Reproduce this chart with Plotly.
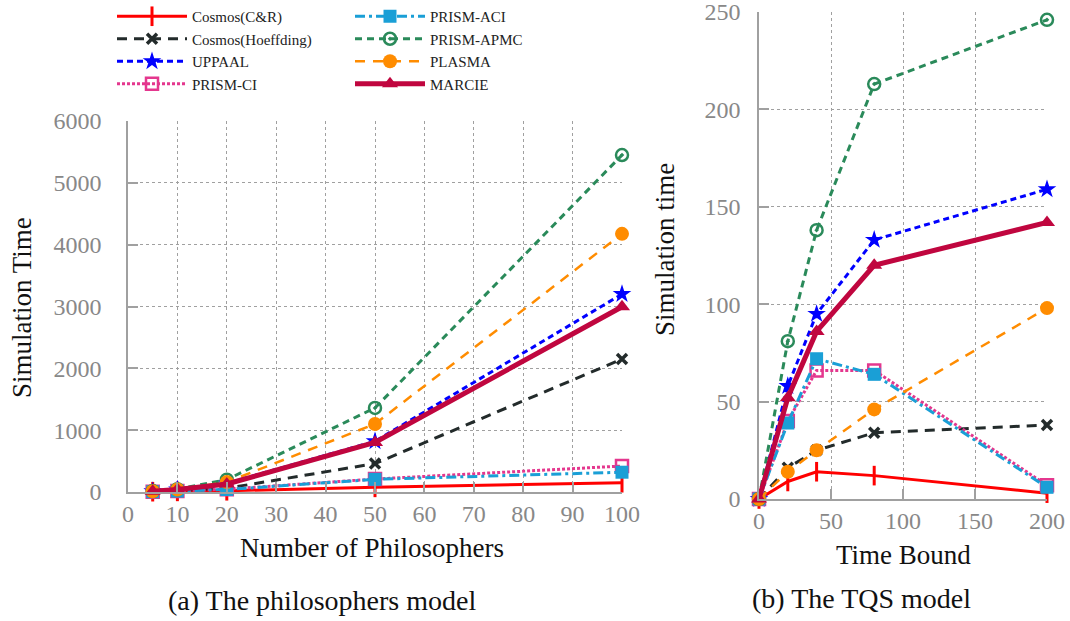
import plotly.graph_objects as go

# ---------------- data ----------------
series_names = ["Cosmos(C&R)", "Cosmos(Hoeffding)", "UPPAAL", "PRISM-CI",
                "PRISM-ACI", "PRISM-APMC", "PLASMA", "MARCIE"]

phil_x = [5, 10, 20, 50, 100]
phil_cosmos_cr = [5, 10, 20, 75, 150]
phil_cosmos_hoeff = [8, 25, 60, 460, 2150]
phil_uppaal = [12, 40, 140, 820, 3200]
phil_prism_ci = [6, 18, 45, 210, 420]
phil_prism_aci = [5, 15, 40, 205, 320]
phil_prism_apmc = [15, 45, 200, 1360, 5450]
phil_plasma = [12, 40, 160, 1100, 4175]
phil_marcie = [12, 40, 130, 800, 2995]

tqs_x = [0, 20, 40, 80, 200]
tqs_cosmos_cr = [0, 9, 14, 12, 3]
tqs_cosmos_hoeff = [0, 16, 25, 34, 38]
tqs_uppaal = [0, 58, 95, 133, 159]
tqs_prism_ci = [0, 40, 66, 66, 7]
tqs_prism_aci = [0, 39, 72, 64, 6]
tqs_prism_apmc = [0, 81, 138, 213, 246]
tqs_plasma = [0, 14, 25, 46, 98]
tqs_marcie = [0, 52, 86, 120, 142]

phil_x_ticks = list(range(0, 101, 10))
phil_y_ticks = list(range(0, 6001, 1000))
tqs_x_ticks = [0, 50, 100, 150, 200]
tqs_y_ticks = [0, 50, 100, 150, 200, 250]

phil_data = [phil_cosmos_cr, phil_cosmos_hoeff, phil_uppaal, phil_prism_ci,
             phil_prism_aci, phil_prism_apmc, phil_plasma, phil_marcie]
tqs_data = [tqs_cosmos_cr, tqs_cosmos_hoeff, tqs_uppaal, tqs_prism_ci,
            tqs_prism_aci, tqs_prism_apmc, tqs_plasma, tqs_marcie]

# ---------------- styles ----------------
styles = {
    "Cosmos(C&R)": dict(color="#ff0000", width=3, dash="solid", symbol="line-ns", msize=14, mline=3, legend="legend"),
    "Cosmos(Hoeffding)": dict(color="#232b2b", width=3, dash="10px,7px", symbol="x-thin", msize=10, mline=3.5, legend="legend"),
    "UPPAAL": dict(color="#0000ff", width=3, dash="6px,4px", symbol="star", msize=14, mline=0, legend="legend"),
    "PRISM-CI": dict(color="#e4378e", width=3, dash="3px,2px", symbol="square-open", msize=12, mline=2.5, legend="legend"),
    "PRISM-ACI": dict(color="#1a9fd6", width=3, dash="10px,4px,3px,4px", symbol="square", msize=13, mline=0, legend="legend2"),
    "PRISM-APMC": dict(color="#2a8a5a", width=3, dash="7px,5px", symbol="circle-open-dot", msize=12, mline=2.5, legend="legend2"),
    "PLASMA": dict(color="#ff8c00", width=2.5, dash="10px,8px", symbol="circle", msize=14, mline=0, legend="legend2"),
    "MARCIE": dict(color="#c0063f", width=5, dash="solid", symbol="triangle-up", msize=14, mline=0, legend="legend2"),
}

SERIF = "Liberation Serif"
fig = go.Figure()

for name, ys in zip(series_names, phil_data):
    s = styles[name]
    fig.add_trace(go.Scatter(
        x=phil_x, y=ys, name=name, mode="lines+markers", legend=s["legend"],
        line=dict(color=s["color"], width=s["width"], dash=s["dash"]),
        marker=dict(symbol=s["symbol"], size=s["msize"], color=s["color"],
                    line=dict(color=s["color"], width=s["mline"])),
        cliponaxis=False, xaxis="x", yaxis="y"))

for name, ys in zip(series_names, tqs_data):
    s = styles[name]
    fig.add_trace(go.Scatter(
        x=tqs_x, y=ys, name=name, mode="lines+markers", showlegend=False,
        line=dict(color=s["color"], width=s["width"], dash=s["dash"]),
        marker=dict(symbol=s["symbol"], size=s["msize"], color=s["color"],
                    line=dict(color=s["color"], width=s["mline"])),
        cliponaxis=False, xaxis="x2", yaxis="y2"))

W, H = 1070, 621
def px(v):
    return v / W
def py(v):
    return 1 - v / H

axis_common = dict(
    showgrid=True, gridcolor="#a0a0a0", griddash="dot", gridwidth=1,
    showline=True, linecolor="#a0a0a0", linewidth=1.5,
    ticks="inside", ticklen=10, tickcolor="#a0a0a0", tickwidth=1.5,
    tickfont=dict(family=SERIF, size=24, color="#888888"),
    zeroline=False, mirror=False, automargin=False, ticklabeloverflow="allow",
)

legend_common = dict(
    orientation="v", yanchor="top", xanchor="left",
    font=dict(family=SERIF, size=15, color="#222222"),
    itemwidth=70, bgcolor="rgba(0,0,0,0)", tracegroupgap=0,
)

fig.update_layout(
    width=W, height=H, margin=dict(l=0, r=0, t=0, b=0),
    paper_bgcolor="white", plot_bgcolor="white",
    showlegend=True,
    legend=dict(x=px(112), y=1.0, **legend_common),
    legend2=dict(x=px(350), y=1.0, **legend_common),
    xaxis=dict(domain=[px(128), px(622)], range=[0, 100], tickvals=phil_x_ticks,
               ticklabelstandoff=-1, anchor="y", **axis_common),
    yaxis=dict(domain=[py(492), py(121)], range=[0, 6000], tickvals=phil_y_ticks,
               ticklabelstandoff=20, anchor="x", **axis_common),
    xaxis2=dict(domain=[px(759), px(1047)], range=[0, 200], tickvals=tqs_x_ticks,
                ticklabelstandoff=-1, anchor="y2", **axis_common),
    yaxis2=dict(domain=[py(499), py(12)], range=[0, 250], tickvals=tqs_y_ticks,
                ticklabelstandoff=12, anchor="x2", **axis_common),
)

ann_font = dict(family=SERIF, size=27, color="#111111")
cap_font = dict(family=SERIF, size=28, color="#111111")
annotations = [
    dict(text="Number of Philosophers", x=px(372), y=py(548), font=ann_font),
    dict(text="Simulation Time", x=px(22), y=py(308), textangle=-90, font=ann_font),
    dict(text="Simulation time", x=px(665), y=py(250), textangle=-90, font=ann_font),
    dict(text="Time Bound", x=px(903), y=py(555), font=ann_font),
    dict(text="(a) The philosophers model", x=px(322), y=py(600), font=cap_font),
    dict(text="(b) The TQS model", x=px(861), y=py(598), font=cap_font),
]
for a in annotations:
    fig.add_annotation(xref="paper", yref="paper", showarrow=False,
                       xanchor="center", yanchor="middle", **a)

fig.write_html("out.html", config={"displayModeBar": False},
               post_script="document.body.style.margin='0px';document.body.style.overflow='hidden';")
